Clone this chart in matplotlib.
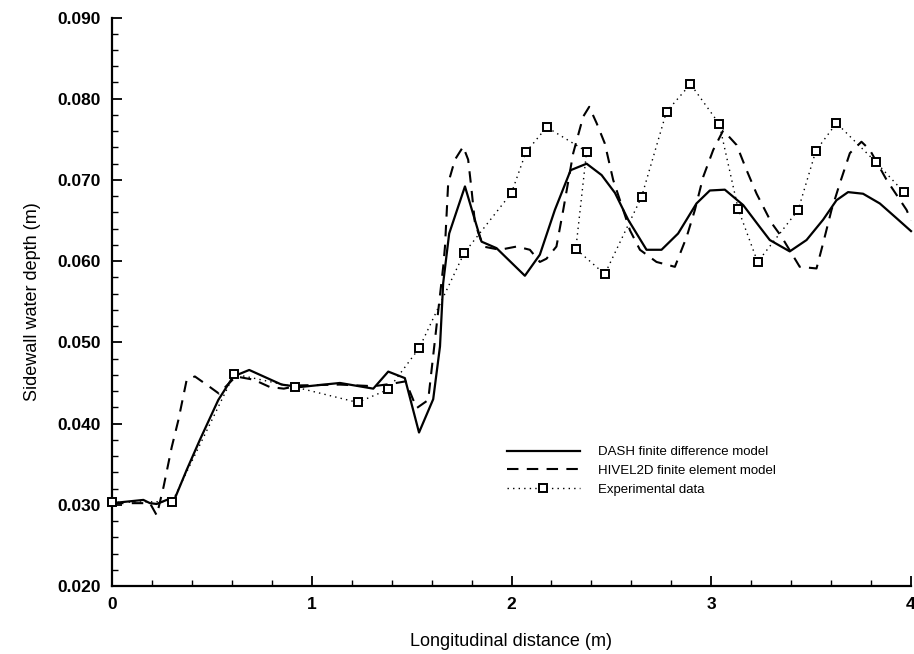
import matplotlib
matplotlib.use("Agg")
import matplotlib.pyplot as plt
from matplotlib.ticker import MultipleLocator, FormatStrFormatter

plt.rcParams['font.family'] = ['Liberation Sans', 'DejaVu Sans']

# DASH finite difference model (solid)
dash_x = [0.0, 0.157, 0.19, 0.224, 0.274, 0.315, 0.374, 0.44, 0.532, 0.607, 0.687,
          0.849, 0.941, 1.141, 1.308, 1.383, 1.466, 1.537, 1.608, 1.642, 1.658, 1.688,
          1.767, 1.837, 1.85, 1.925, 2.067, 2.142, 2.217, 2.296, 2.376, 2.451, 2.518,
          2.584, 2.676, 2.751, 2.834, 2.926, 2.993, 3.068, 3.16, 3.243, 3.293, 3.393,
          3.477, 3.56, 3.627, 3.685, 3.76, 3.844, 3.927, 4.0]
dash_y = [0.0302, 0.0306, 0.0302, 0.0301, 0.0306, 0.0308, 0.0343, 0.0380, 0.0429, 0.0458, 0.0466,
          0.0448, 0.0445, 0.0450, 0.0443, 0.0464, 0.0456, 0.0389, 0.0430, 0.0495, 0.0573, 0.0634,
          0.0692, 0.0634, 0.0624, 0.0616, 0.0582, 0.0608, 0.0663, 0.0712, 0.0720, 0.0706, 0.0684,
          0.0651, 0.0614, 0.0614, 0.0634, 0.0671, 0.0687, 0.0688, 0.0669, 0.0642, 0.0626, 0.0612,
          0.0626, 0.0651, 0.0675, 0.0685, 0.0683, 0.0671, 0.0653, 0.0637]

# HIVEL2D finite element model (dashed)
hivel_x = [0.0, 0.19, 0.224, 0.258, 0.299, 0.332, 0.374, 0.415, 0.49, 0.535, 0.62, 0.71,
           0.79, 0.86, 0.94, 1.14, 1.31, 1.40, 1.47, 1.525, 1.583, 1.658, 1.667, 1.683,
           1.717, 1.758, 1.783, 1.80, 1.817, 1.858, 1.942, 2.026, 2.092, 2.142, 2.175,
           2.225, 2.259, 2.309, 2.359, 2.389, 2.426, 2.467, 2.509, 2.593, 2.643, 2.726,
           2.818, 2.877, 2.918, 2.96, 3.01, 3.06, 3.127, 3.177, 3.227, 3.302, 3.352, 3.443,
           3.527, 3.56, 3.602, 3.644, 3.694, 3.752, 3.794, 3.878, 3.978, 4.0]
hivel_y = [0.0302, 0.0302, 0.0287, 0.0322, 0.0371, 0.0404, 0.0454, 0.0458, 0.0445, 0.0437, 0.0458, 0.0454,
           0.0445, 0.0443, 0.0447, 0.0448, 0.0446, 0.0449, 0.0452, 0.0419, 0.0429, 0.0593, 0.0618, 0.0696,
           0.0725, 0.0741, 0.0725, 0.0688, 0.0647, 0.0618, 0.0614, 0.0618, 0.0614, 0.0599, 0.0603,
           0.0618, 0.0663, 0.0733, 0.0778, 0.0790, 0.0770, 0.0745, 0.0700, 0.0638, 0.0614, 0.0599,
           0.0593, 0.0630, 0.0663, 0.0704, 0.0737, 0.0761, 0.0743, 0.0712, 0.0683, 0.0647, 0.0630, 0.0593,
           0.0591, 0.0622, 0.0663, 0.0696, 0.0733, 0.0747, 0.0737, 0.0700, 0.0663, 0.0650]

# Experimental data (dotted with open squares), in measured order
exp_x = [0.0, 0.302, 0.612, 0.916, 1.230, 1.383, 1.538, 1.763, 2.000, 2.072, 2.176, 2.376,
         2.322, 2.467, 2.651, 2.776, 2.896, 3.040, 3.135, 3.232, 3.435, 3.524, 3.627, 3.824, 3.964]
exp_y = [0.0303, 0.0304, 0.0461, 0.0445, 0.0426, 0.0442, 0.0493, 0.0610, 0.0684, 0.0734, 0.0765, 0.0735,
         0.0615, 0.0584, 0.0679, 0.0784, 0.0818, 0.0769, 0.0664, 0.0599, 0.0663, 0.0736, 0.0770, 0.0722, 0.0685]

labels = ["DASH finite difference model", "HIVEL2D finite element model", "Experimental data"]

fig = plt.figure(figsize=(9.14, 6.54), dpi=100)
ax = fig.add_axes([112/914, 1 - 586/654, (911-112)/914, (586-17.5)/654])

ax.plot(dash_x, dash_y, color='black', lw=1.6, ls='-', label=labels[0], clip_on=False)
ax.plot(hivel_x, hivel_y, color='black', lw=1.5, ls=(0, (5.5, 4)), label=labels[1], clip_on=False)
ax.plot(exp_x, exp_y, color='black', lw=1.0, ls=(0, (1, 3)), marker='s', markersize=6.3,
        markerfacecolor='white', markeredgecolor='black', markeredgewidth=1.4,
        label=labels[2], clip_on=False, zorder=3)

ax.set_xlim(0, 4)
ax.set_ylim(0.020, 0.090)
ax.xaxis.set_major_locator(MultipleLocator(1))
ax.xaxis.set_minor_locator(MultipleLocator(0.2))
ax.yaxis.set_major_locator(MultipleLocator(0.010))
ax.yaxis.set_minor_locator(MultipleLocator(0.002))
ax.yaxis.set_major_formatter(FormatStrFormatter('%.3f'))
ax.xaxis.set_major_formatter(FormatStrFormatter('%d'))

for s in ['top', 'right']:
    ax.spines[s].set_visible(False)
for s in ['left', 'bottom']:
    ax.spines[s].set_linewidth(1.6)

ax.tick_params(axis='both', which='major', direction='in', length=7, width=1.3,
               labelsize=12.5, pad=8)
ax.tick_params(axis='both', which='minor', direction='in', length=4, width=1.0)
for lab in ax.get_xticklabels() + ax.get_yticklabels():
    lab.set_fontweight('bold')

ax.set_xlabel("Longitudinal distance (m)", fontsize=13, labelpad=15)
ax.set_ylabel("Sidewall water depth (m)", fontsize=13, labelpad=12)

leg = ax.legend(loc='upper left', bbox_to_anchor=(507/914, 1 - 446/654),
                bbox_transform=fig.transFigure, frameon=False, fontsize=9.5,
                handlelength=5.5, handletextpad=1.4, labelspacing=0.5, borderpad=0,
                borderaxespad=0)

fig.savefig("out.png", dpi=100)
